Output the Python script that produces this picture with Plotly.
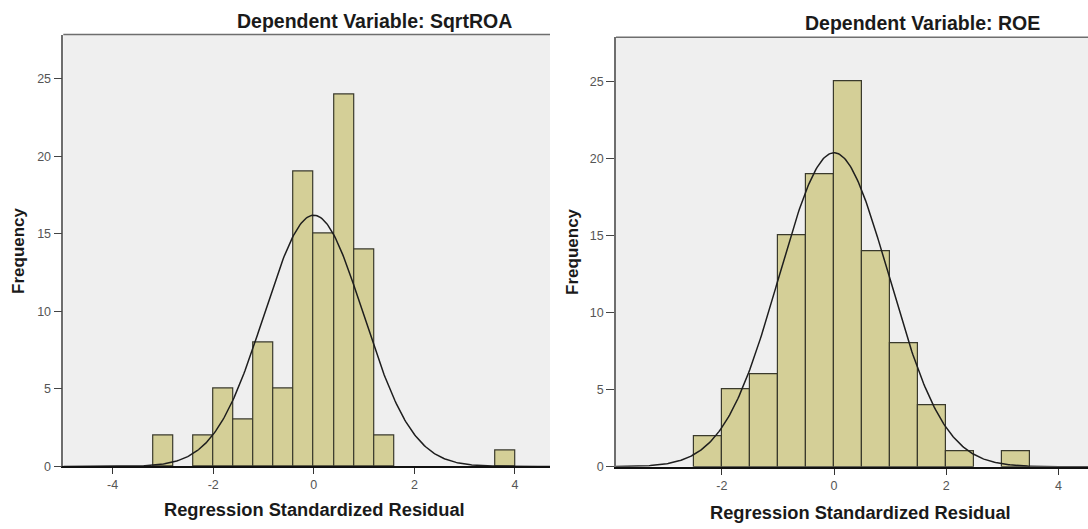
import numpy as np
import plotly.graph_objects as go

W, H = 1088, 529

# ---------------- data ----------------
# Left panel: Dependent Variable SqrtROA (bin width 0.4, starting at -3.2)
left_bin_start = -3.2
left_bin_width = 0.4
left_counts = [2, 0, 2, 5, 3, 8, 5, 19, 15, 24, 14, 2, 0, 0, 0, 0, 0, 1]
left_mean, left_sd, left_n = 0.0, 0.985, 100

# Right panel: Dependent Variable ROE (bin width 0.5, starting at -2.5)
right_bin_start = -2.5
right_bin_width = 0.5
right_counts = [2, 5, 6, 15, 19, 25, 14, 8, 4, 1, 0, 1]
right_mean, right_sd, right_n = 0.0, 0.98, 100

x_tickvals = [-4, -2, 0, 2, 4]
x_ticktext = ["-4", "-2", "0", "2", "4"]
y_tickvals = [0, 5, 10, 15, 20, 25]

left_title = "Dependent Variable: SqrtROA"
right_title = "Dependent Variable: ROE"
x_title = "Regression Standardized Residual"
y_title = "Frequency"

# ---------------- styling / layout ----------------
FONT = "Liberation Sans, Arial, sans-serif"
BAR_FILL = "#D4CF97"
BAR_LINE = "#3A3A2C"
PLOT_BG = "#EFEFEF"

def px_x(p):
    return p / W

def px_y(p):
    return 1 - p / H

# plot-area pixel boxes (left, top, right, bottom)
L_BOX = (63.3, 35.0, 550.0, 472.7)
R_BOX = (616.0, 37.7, 1088.0, 473.0)

left_xrange = [-4.98, -4.98 + (L_BOX[2] - L_BOX[0]) / 50.3]
right_xrange = [-3.886, -3.886 + (R_BOX[2] - R_BOX[0]) / 56.1]
y_range = [0, 27.85]

fig = go.Figure()

def add_panel(bin_start, bin_width, counts, mean, sd, n, xr, xa, ya):
    centers = [bin_start + bin_width * (i + 0.5) for i in range(len(counts))]
    xs = [c for c, v in zip(centers, counts) if v > 0]
    ys = [v for v in counts if v > 0]
    fig.add_trace(go.Bar(
        x=xs, y=ys, width=bin_width,
        marker=dict(color=BAR_FILL, line=dict(color=BAR_LINE, width=1.2)),
        xaxis=xa, yaxis=ya, showlegend=False, hoverinfo="x+y",
    ))
    gx = np.linspace(xr[0], xr[1], 400)
    gy = n * bin_width / (sd * np.sqrt(2 * np.pi)) * np.exp(-0.5 * ((gx - mean) / sd) ** 2)
    fig.add_trace(go.Scatter(
        x=gx, y=gy, mode="lines",
        line=dict(color="#1E1E1E", width=1.5),
        xaxis=xa, yaxis=ya, showlegend=False, hoverinfo="skip",
    ))

add_panel(left_bin_start, left_bin_width, left_counts, left_mean, left_sd, left_n,
          left_xrange, "x", "y")
add_panel(right_bin_start, right_bin_width, right_counts, right_mean, right_sd, right_n,
          right_xrange, "x2", "y2")

tickfont = dict(family=FONT, size=12.5, color="#555555")

def xaxis(box, xr):
    return dict(
        domain=[px_x(box[0]), px_x(box[2])], range=xr,
        tickvals=x_tickvals, ticktext=x_ticktext,
        ticks="outside", ticklen=6, tickwidth=1.2,
        tickcolor="#333333", tickfont=tickfont,
        showline=True, linecolor="#111111", linewidth=2,
        showgrid=False, zeroline=False, fixedrange=True,
    )

def yaxis(box, anchor):
    return dict(
        domain=[px_y(box[3]), px_y(box[1])], range=y_range, anchor=anchor,
        tickvals=y_tickvals, ticks="outside", ticklen=8, tickwidth=1.2,
        tickcolor="#444444", tickfont=tickfont,
        showline=True, linecolor="#6E6E6E", linewidth=1.5,
        showgrid=False, zeroline=False, fixedrange=True,
    )

layout = dict(
    width=W, height=H,
    margin=dict(l=0, r=0, t=0, b=0),
    paper_bgcolor="white",
    plot_bgcolor=PLOT_BG,
    bargap=0,
    xaxis=dict(xaxis(L_BOX, left_xrange), anchor="y"),
    yaxis=yaxis(L_BOX, "x"),
    xaxis2=dict(xaxis(R_BOX, right_xrange), anchor="y2"),
    yaxis2=yaxis(R_BOX, "x2"),
)
fig.update_layout(**layout)

# top frame lines
for xref, yref in (("x domain", "y domain"), ("x2 domain", "y2 domain")):
    fig.add_shape(type="line", xref=xref, yref=yref, x0=0, x1=1, y0=1, y1=1,
                  line=dict(color="#6E6E6E", width=1.5))

def ann(text, x, y, size, angle=0):
    fig.add_annotation(
        text=f"<b>{text}</b>", x=px_x(x), y=px_y(y), xref="paper", yref="paper",
        xanchor="center", yanchor="middle", showarrow=False, textangle=angle,
        font=dict(family=FONT, size=size, color="#1A1A1A"),
    )

ann(left_title, 374, 21, 19.5)
ann(right_title, 922.5, 23.5, 19.5)
ann(x_title, 314, 516, 18.3)
ann(x_title, 860, 519, 18.3)
ann(y_title, 18.3, 254, 17, angle=-90)
ann(y_title, 572.3, 255, 17, angle=-90)

fig.write_html("out.html")
